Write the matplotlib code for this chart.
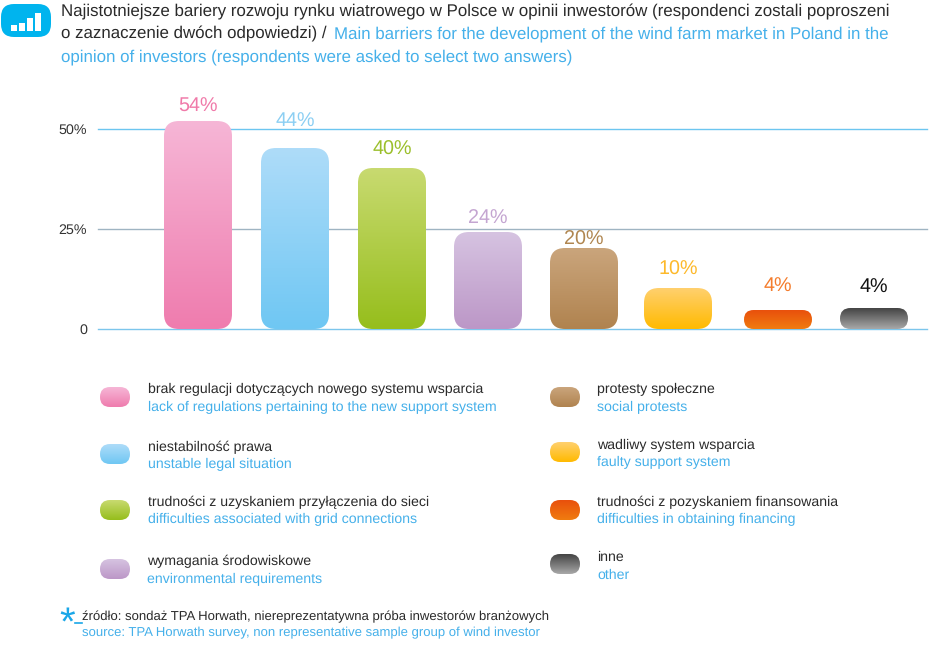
import numpy as np
import matplotlib
matplotlib.use("Agg")
import matplotlib.pyplot as plt
from matplotlib.colors import LinearSegmentedColormap
from matplotlib.patches import FancyBboxPatch, Rectangle

plt.rcParams["font.family"] = ["Liberation Sans", "DejaVu Sans"]
plt.rcParams["text.hinting"] = "no_hinting"

BLUE = "#45b0ea"
DARK = "#2a2a2a"

# what the bars are labelled with, and how tall they are drawn in the picture
value_labels = ["54%", "44%", "40%", "24%", "20%", "10%", "4%", "4%"]
bar_heights = [52, 45.25, 40.25, 24.25, 20.25, 10.25, 4.75, 5.25]
y_ticks = [0, 25, 50]
y_tick_labels = ["0", "25%", "50%"]

names_pl = ["brak regulacji dotyczących nowego systemu wsparcia", "niestabilność prawa",
            "trudności z uzyskaniem przyłączenia do sieci", "wymagania środowiskowe",
            "protesty społeczne", "wadliwy system wsparcia",
            "trudności z pozyskaniem finansowania", "inne"]
names_en = ["lack of regulations pertaining to the new support system", "unstable legal situation",
            "difficulties associated with grid connections", "environmental requirements",
            "social protests", "faulty support system",
            "difficulties in obtaining financing", "other"]

top_colors = ["#f6b6d6", "#aedcf9", "#c8da70", "#d6c3e1", "#caa57c", "#ffd06e", "#e9500c", "#444444"]
bottom_colors = ["#ef7cae", "#6fc7f3", "#96be1c", "#bc97c7", "#b0834f", "#ffba00", "#f07c10", "#a8a8a8"]
label_colors = ["#f07aa9", "#8ccff3", "#9bbf2b", "#c4a5d1", "#b08650", "#fdb92b", "#f47c2c", "#111111"]

# layout, in pixels of the 950x654 picture
W, H = 950, 654
bar_x = [198, 295, 392, 488, 584, 678, 778, 874]
label_dy = [14, 26, 18, 13, 8, 18, 23, 20]
bar_w = 68
legend_x = [100, 100, 100, 100, 550, 550, 550, 550]
legend_text_x = [148, 148, 148, 147, 597, 597, 597, 597]
legend_box_y = [397, 454, 510, 569, 397, 452, 510, 564]
legend_pl_y = [389, 447, 502, 561, 389, 445, 502, 557]
legend_en_y = [407, 464, 519, 579, 407, 462, 519, 575]


def gradient_box(ax, x, y, w, h, top, bottom, radius, aspect=1.0):
    cmap = LinearSegmentedColormap.from_list("g", [bottom, top])
    grad = np.linspace(0, 1, 128).reshape(-1, 1)
    im = ax.imshow(grad, cmap=cmap, origin="lower", aspect="auto",
                   extent=(x, x + w, y, y + h), zorder=3)
    box = FancyBboxPatch((x, y), w, h, boxstyle="round,pad=0,rounding_size=%g" % radius,
                         mutation_aspect=aspect, transform=ax.transData,
                         facecolor="none", edgecolor="none")
    ax.add_patch(box)
    im.set_clip_path(box)


fig = plt.figure(figsize=(W / 100, H / 100), dpi=100, facecolor="white")

# chart: 4 px per percent, baseline at y=329
top_px = 90
ax = fig.add_axes([98 / W, 1 - 329 / H, (927 - 98) / W, (329 - top_px) / H])
px_per_unit = 4.0
for tick, col in zip(y_ticks, ["#7cc6ec", "#9fb4c2", "#6cc6f0"]):
    ax.axhline(tick, color=col, lw=1, zorder=1, clip_on=False)
for i, h in enumerate(bar_heights):
    radius = min(15, h * px_per_unit / 2)
    gradient_box(ax, bar_x[i] - bar_w / 2, 0, bar_w, h, top_colors[i], bottom_colors[i],
                 radius, aspect=1 / px_per_unit)
    ax.text(bar_x[i], h + label_dy[i] / px_per_unit, value_labels[i], color=label_colors[i],
            fontsize=14.2, ha="center", va="center", zorder=4)
ax.set_xlim(98, 927)
ax.set_ylim(0, (329 - top_px) / px_per_unit)
ax.set_yticks(y_ticks)
ax.set_yticklabels(y_tick_labels, fontsize=10.3, color="#333333")
ax.set_xticks([])
ax.tick_params(axis="y", length=0, pad=8)
for s in ax.spines.values():
    s.set_visible(False)
ax.patch.set_visible(False)

# page overlay in pixel coordinates: header, key, footnote
over = fig.add_axes([0, 0, 1, 1], zorder=5)
over.axis("off")
over.patch.set_visible(False)

over.add_patch(FancyBboxPatch((1, 4), 50, 33, boxstyle="round,pad=0,rounding_size=13",
                              facecolor="#00b4ee", edgecolor="none"))
for x0, y0 in zip([11, 19, 27, 35], [25, 23, 18, 13]):
    over.add_patch(Rectangle((x0, y0), 6, 31 - y0, facecolor="white", edgecolor="none"))

title_size = 12.15
over.text(61, 12, "Najistotniejsze bariery rozwoju rynku wiatrowego w Polsce w opinii inwestorów (respondenci zostali poproszeni",
          fontsize=title_size, color=DARK, va="center")
over.text(61, 34, "o zaznaczenie dwóch odpowiedzi) /", fontsize=title_size, color=DARK, va="center")
over.text(334, 34, "Main barriers for the development of the wind farm market in Poland in the",
          fontsize=title_size, color=BLUE, va="center")
over.text(61, 57, "opinion of investors (respondents were asked to select two answers)",
          fontsize=title_size, color=BLUE, va="center")

for i in range(len(names_pl)):
    cmap = LinearSegmentedColormap.from_list("g", [bottom_colors[i], top_colors[i]])
    grad = np.linspace(1, 0, 64).reshape(-1, 1)
    x0, y0 = legend_x[i], legend_box_y[i] - 10
    im = over.imshow(grad, cmap=cmap, aspect="auto", extent=(x0, x0 + 30, y0 + 20, y0), zorder=2)
    box = FancyBboxPatch((x0, y0), 30, 20, boxstyle="round,pad=0,rounding_size=10",
                         facecolor="none", edgecolor="none")
    over.add_patch(box)
    im.set_clip_path(box)
    over.text(legend_text_x[i], legend_pl_y[i], names_pl[i], fontsize=10.2, color=DARK, va="center")
    over.text(legend_text_x[i], legend_en_y[i], names_en[i], fontsize=10.2, color=BLUE, va="center")
over.set_xlim(0, W)
over.set_ylim(H, 0)

over.text(67, 625, "*", fontsize=29, color="#1aa7e8", ha="center", va="center")
over.plot([75, 82], [623, 623], color="#1aa7e8", lw=1.2)
over.text(82, 617, "źródło: sondaż TPA Horwath, niereprezentatywna próba inwestorów branżowych",
          fontsize=9.45, color=DARK, va="center")
over.text(82, 633, "source: TPA Horwath survey, non representative sample group of wind investor",
          fontsize=9.42, color=BLUE, va="center")

fig.savefig("out.png", dpi=100, facecolor="white")
